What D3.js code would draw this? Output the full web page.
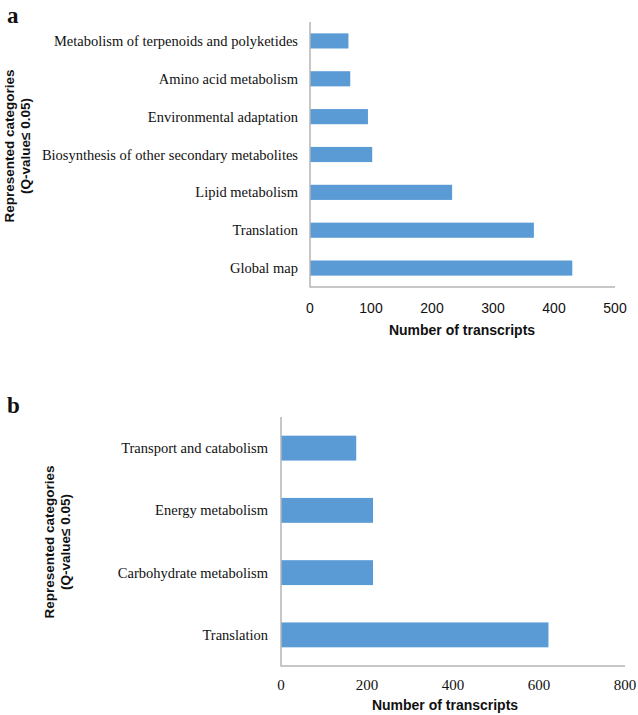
<!DOCTYPE html>
<html><head><meta charset="utf-8">
<script src="https://cdn.jsdelivr.net/npm/d3@7"></script>
<style>body{margin:0;background:#fff}svg{display:block}</style>
</head><body>
<svg id="c" width="638" height="715"></svg>
<script>
const catsA = ["Metabolism of terpenoids and polyketides","Amino acid metabolism","Environmental adaptation","Biosynthesis of other secondary metabolites","Lipid metabolism","Translation","Global map"];
const valsA = [63, 66, 95, 102, 233, 367, 430];
const ticksA = [0, 100, 200, 300, 400, 500];
const catsB = ["Transport and catabolism","Energy metabolism","Carbohydrate metabolism","Translation"];
const valsB = [175, 214, 214, 622];
const ticksB = [0, 200, 400, 600, 800];
const yTitle1 = "Represented categories";
const yTitle2 = "(Q-value\u2264 0.05)";
const xTitle = "Number of transcripts";

const svg = d3.select("#c");
const serif = "'Liberation Serif','Times New Roman',serif";
const sans = "'Liberation Sans',Arial,sans-serif";
const barColor = "#5b9bd5", axisColor = "#b4b4b4";

function panel(o){
  const g = svg.append("g");
  const x = d3.scaleLinear().domain([0, o.max]).range([o.x0, o.x1]);
  const y = d3.scaleBand().domain(o.cats).range([o.y0, o.y1]).paddingInner(o.pad).paddingOuter(o.pad/2);
  g.selectAll("rect").data(o.vals).join("rect")
    .attr("x", x(0)).attr("y", (d,i)=>y(o.cats[i]))
    .attr("width", d=>x(d)-x(0)).attr("height", y.bandwidth())
    .attr("fill", barColor);
  g.append("line").attr("x1", x(0)).attr("x2", x(0)).attr("y1", o.y0).attr("y2", o.y1+0.5)
    .attr("stroke", axisColor).attr("stroke-width", 1.5);
  g.append("line").attr("x1", x(0)).attr("x2", o.x1).attr("y1", o.y1).attr("y2", o.y1)
    .attr("stroke", axisColor).attr("stroke-width", 1.5);
  g.selectAll("text.cat").data(o.cats).join("text").attr("class","cat")
    .attr("x", o.labelX).attr("y", d=>y(d)+y.bandwidth()/2)
    .attr("dy","0.35em").attr("text-anchor","end")
    .attr("font-family", serif).attr("font-size", o.catSize).attr("fill","#111").text(d=>d);
  g.selectAll("text.tick").data(o.ticks).join("text").attr("class","tick")
    .attr("x", d=>x(d)).attr("y", o.tickY).attr("text-anchor","middle")
    .attr("font-family", o.tickFont).attr("font-size", o.tickSize).attr("fill","#111").text(d=>d);
  g.append("text").attr("x", o.xTitleX).attr("y", o.xTitleY).attr("text-anchor","middle")
    .attr("font-family", sans).attr("font-weight","bold").attr("font-size", 14).attr("fill","#111").text(xTitle);
  const yt = g.append("text").attr("transform", `translate(${o.yTitleX},${o.yTitleY}) rotate(-90)`)
    .attr("text-anchor","middle").attr("font-family", sans).attr("font-weight","bold").attr("font-size", 13.5).attr("fill","#111");
  yt.append("tspan").attr("x",0).attr("y",0).text(yTitle1);
  yt.append("tspan").attr("x",0).attr("y",o.yLineGap).text(yTitle2);
  g.append("text").attr("x", o.letterX).attr("y", o.letterY).attr("font-family", serif)
    .attr("font-weight","bold").attr("font-size", 23).attr("fill","#111").text(o.letter);
}

panel({cats:catsA, vals:valsA, ticks:ticksA, max:500, x0:310, x1:615, y0:22, y1:287, pad:0.6,
  labelX:298, catSize:14.5, tickY:313, tickFont:sans, tickSize:14, xTitleX:462, xTitleY:335,
  yTitleX:14, yTitleY:146, yLineGap:16, letter:"a", letterX:7, letterY:23});
panel({cats:catsB, vals:valsB, ticks:ticksB, max:800, x0:281, x1:625, y0:417, y1:666, pad:0.6,
  labelX:268, catSize:14.5, tickY:690, tickFont:serif, tickSize:15, xTitleX:445, xTitleY:710,
  yTitleX:54, yTitleY:542, yLineGap:16, letter:"b", letterX:7, letterY:413});
</script>
</body></html>
